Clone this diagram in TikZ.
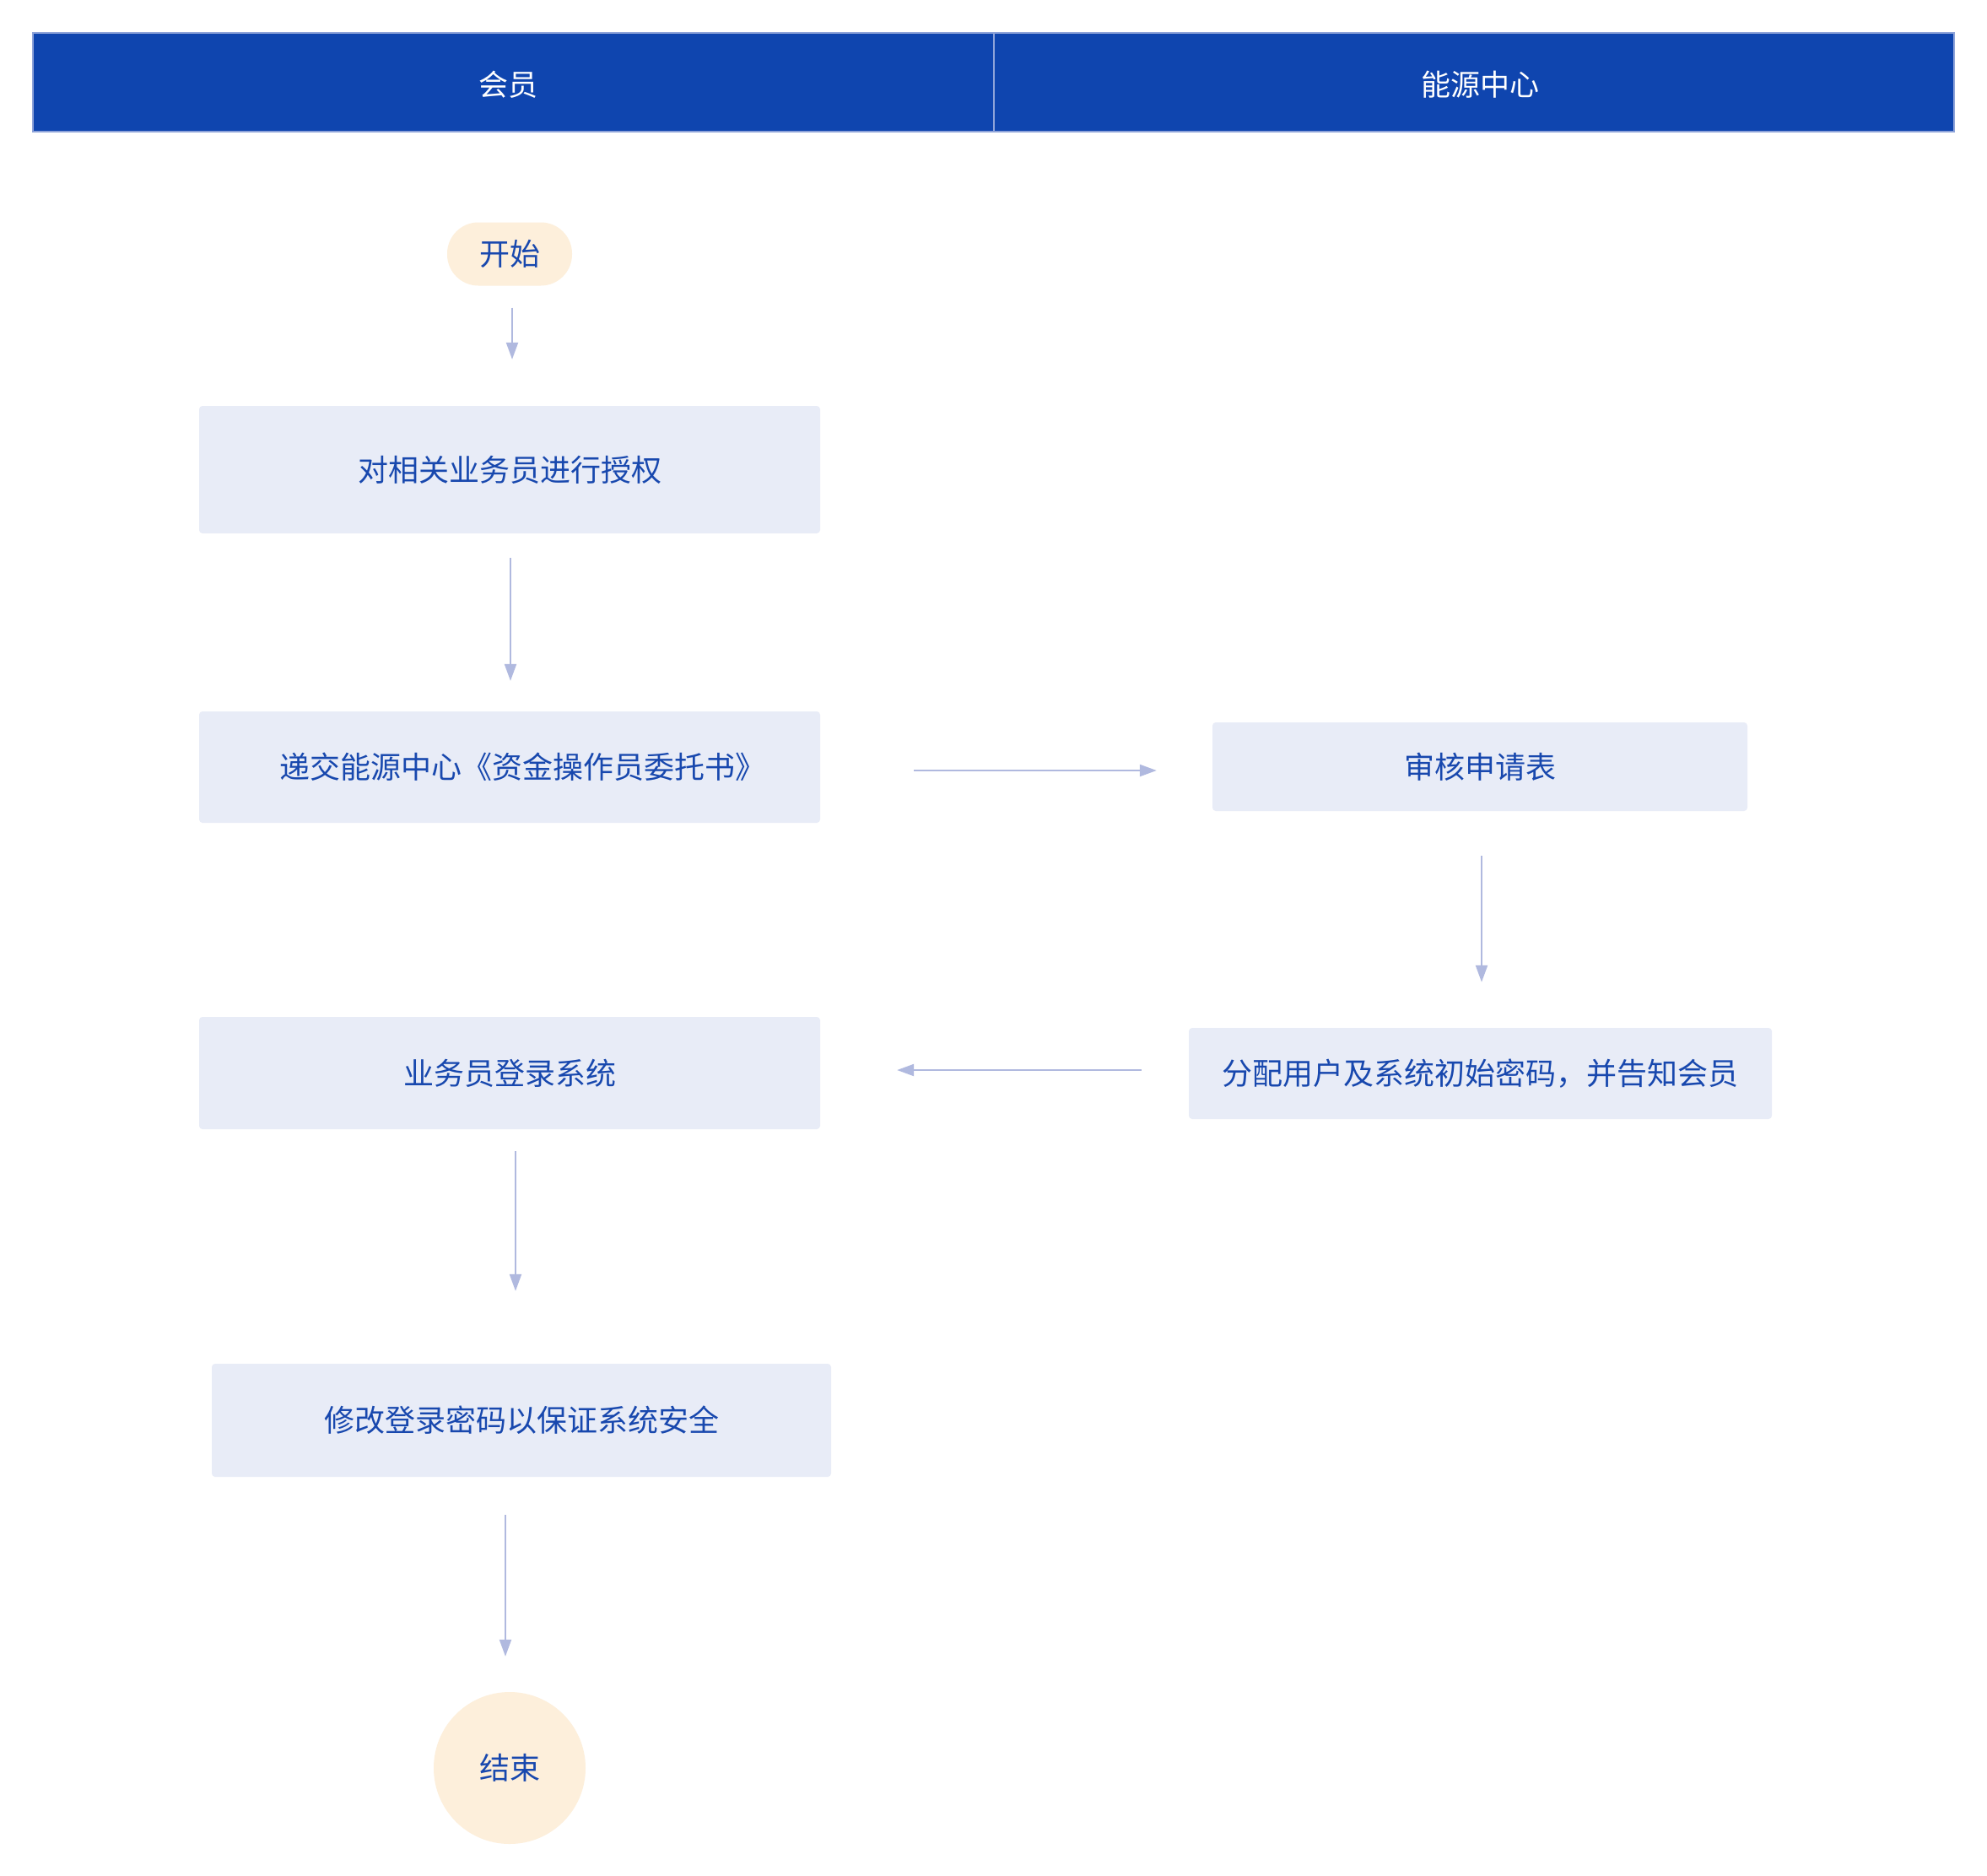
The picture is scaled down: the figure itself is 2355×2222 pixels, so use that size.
\documentclass[tikz,border=0pt]{standalone}
\usepackage{fontspec}
\setmainfont{Noto Sans CJK SC}
\usetikzlibrary{arrows.meta}
\definecolor{hdrblue}{HTML}{0F45AF}
\definecolor{txtblue}{HTML}{1848AE}
\definecolor{boxfill}{HTML}{E8ECF7}
\definecolor{pillfill}{HTML}{FDEFDB}
\definecolor{arrowc}{HTML}{B0B9DF}
\definecolor{hdrline}{HTML}{8EA3D9}
\begin{document}
\begin{tikzpicture}[x=1pt,y=-1pt,
  hdrcell/.style={draw=hdrline,line width=1.2pt,fill=hdrblue,inner sep=0pt,minimum height=117pt},
  hdrtext/.style={text=white,inner sep=0pt,font=\fontsize{35}{40}\selectfont},
  procbox/.style={fill=boxfill,rounded corners=4pt,inner sep=0pt,text=txtblue,font=\fontsize{36}{42}\selectfont},
  pill/.style={fill=pillfill,rounded corners=37pt,inner sep=0pt,minimum width=148pt,minimum height=75pt,text=txtblue,font=\fontsize{36}{42}\selectfont},
  endcirc/.style={circle,fill=pillfill,inner sep=0pt,minimum size=180pt,text=txtblue,font=\fontsize{36}{42}\selectfont},
  conn/.style={draw=arrowc,line width=2.2pt,-{Triangle[length=20pt,width=14pt]}}
]
\useasboundingbox[fill=white] (0,0) rectangle (2355,2222);
% header
\node[hdrcell,minimum width=1139pt] (hL) at (608.5,97.5) {};
\node[hdrcell,minimum width=1138pt] (hR) at (1747,97.5) {};
\node[hdrtext] (hLt) at (602,100) {会员};
\node[hdrtext] (hRt) at (1754,100) {能源中心};
% nodes
\node[pill] (start) at (604,301) {开始};
\node[procbox,minimum width=736pt,minimum height=151pt] (b1) at (604,556.5) {对相关业务员进行授权};
\node[procbox,minimum width=736pt,minimum height=132pt] (b2) at (604,909) {\hspace*{30pt}递交能源中心《资金操作员委托书》};
\node[procbox,minimum width=634pt,minimum height=105pt] (b3) at (1754,908.5) {审核申请表};
\node[procbox,minimum width=691pt,minimum height=108pt] (b4) at (1754.5,1272) {分配用户及系统初始密码，并告知会员};
\node[procbox,minimum width=736pt,minimum height=133pt] (b5) at (604,1271.5) {业务员登录系统};
\node[procbox,minimum width=734pt,minimum height=134pt] (b6) at (618,1683) {修改登录密码以保证系统安全};
\node[endcirc] (end) at (604,2095) {结束};
% connectors
\draw[conn,shorten <=26pt,shorten >=55pt] ([xshift=3pt]start.south) -- ([xshift=3pt]start.south |- b1.north);
\draw[conn,shorten <=29pt,shorten >=36pt] ([xshift=1pt]b1.south) -- ([xshift=1pt]b2.north);
\draw[conn,shorten <=111pt,shorten >=66pt] ([yshift=-4pt]b2.east) -- ([yshift=-4pt]b2.east -| b3.west);
\draw[conn,shorten <=56pt,shorten >=91pt] ([yshift=4pt]b4.west) -- ([yshift=4pt]b4.west -| b5.east);
\draw[conn,shorten <=53pt,shorten >=54pt] ([xshift=2pt]b3.south) -- ([xshift=2pt]b3.south |- b4.north);
\draw[conn,shorten <=26pt,shorten >=86pt] ([xshift=7pt]b5.south) -- ([xshift=7pt]b5.south |- b6.north);
\draw[conn,shorten <=45pt,shorten >=42pt] ([xshift=-5pt]end.north |- b6.south) -- ([xshift=-5pt]end.north);
\end{tikzpicture}
\end{document}
